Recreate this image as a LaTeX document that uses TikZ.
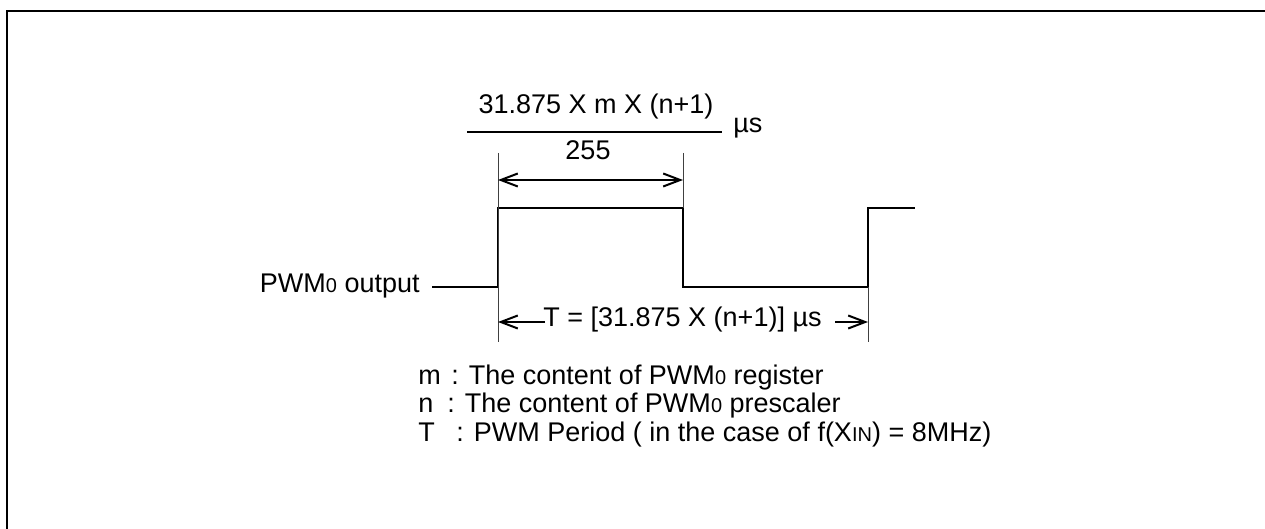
\documentclass[tikz,border=0pt]{standalone}
\usepackage{fontspec}
\setmainfont{Liberation Sans}
\usetikzlibrary{arrows.meta}
\newcommand{\smidx}[1]{{\fontsize{10}{10}\selectfont #1}}

\begin{document}
\begin{tikzpicture}[x=0.5pt, y=-0.5pt,
  txt/.style={font=\fontsize{13.5}{16}\selectfont, inner sep=0pt, anchor=base},
  lgd/.style={txt, anchor=base west},
  wave/.style={line width=1.3pt, line join=miter},
  tickln/.style={line width=0.5pt, black!75},
  barb/.style={line width=1pt, -{Straight Barb[length=8.5pt,width=6.5pt]}},
  dimarr/.style={line width=1pt, {Straight Barb[length=8.5pt,width=6.5pt]}-{Straight Barb[length=8.5pt,width=6.5pt]}}
]
  \useasboundingbox (0,0) rectangle (1265,529);

  % frame (top and left edge only)
  \draw[line width=1.3pt] (7,529) -- (7,11) -- (1265,11);

  % pulse width formula
  \node[txt] (num) at (596,114) {31.875 X m X (n+1)};
  \node[txt] (den) at (588,160) {255};
  \node[txt, anchor=base west] (unit) at (733,133) {µs};
  \coordinate (barl) at (467,132);
  \coordinate (barr) at (722,132);
  \draw[line width=1pt] (barl) -- (barr);

  % waveform
  \node[txt, anchor=base east] (lbl) at (420,293) {PWM\smidx{0} output};
  \coordinate (r1b) at (498,287);
  \coordinate (r1t) at (498,208);
  \coordinate (f1t) at (683,208);
  \coordinate (f1b) at (683,287);
  \coordinate (r2b) at (868,287);
  \coordinate (r2t) at (868,208);
  \coordinate (hiend) at (915,208);
  \draw[wave] ([xshift=6pt]lbl.east |- r1b) -- (r1b) -- (r1t) -- (f1t) -- (f1b) -- (r2b) -- (r2t) -- (hiend);

  % extension lines
  \coordinate (t1top) at (498,153);
  \coordinate (t1bot) at (498,342);
  \coordinate (t2top) at (683,153);
  \coordinate (t3bot) at (868,342);
  \draw[tickln] (t1top) -- (t1bot);
  \draw[tickln] (t2top) -- (f1t);
  \draw[tickln] (r2b) -- (t3bot);

  % high time
  \draw[dimarr] (498,180) -- (683,180);

  % period
  \node[txt, anchor=base west] (per) at (543,327) {T = [31.875 X (n+1)] µs};
  \draw[barb] ([xshift=1pt]per.west |- 0,322) -- (498,322);
  \draw[barb] (835,322) -- (868,322);

  % legend
  \node[lgd] (km) at (418,385) {m};
  \node[lgd] (dm) at (451,385) {: The content of PWM\smidx{0} register};
  \node[lgd] (kn) at (418,413) {n};
  \node[lgd] (dn) at (447,413) {: The content of PWM\smidx{0} prescaler};
  \node[lgd] (kt) at (418,442) {T};
  \node[lgd] (dt) at (456,442) {: PWM Period ( in the case of f(X\smidx{IN}) = 8MHz)};
\end{tikzpicture}
\end{document}
